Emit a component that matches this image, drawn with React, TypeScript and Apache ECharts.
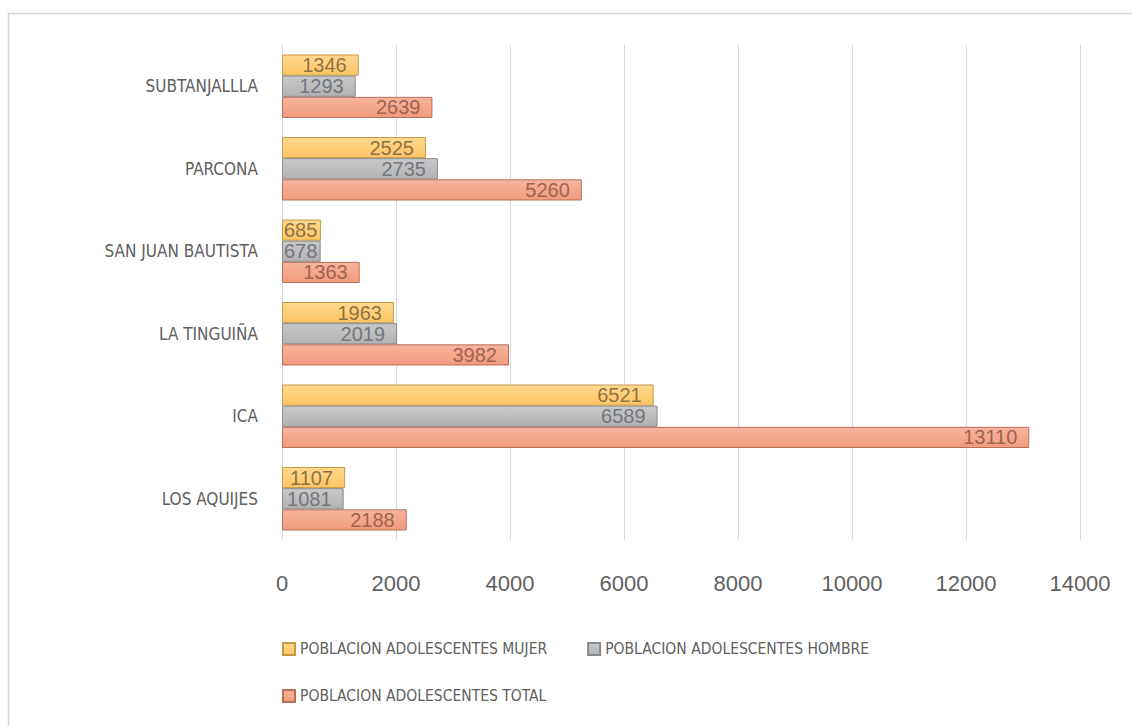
import React, { useEffect, useRef } from "react";
import * as echarts from "echarts";

const categories = ["LOS AQUIJES", "ICA", "LA TINGUIÑA", "SAN JUAN BAUTISTA", "PARCONA", "SUBTANJALLLA"];
const mujer = [1107, 6521, 1963, 685, 2525, 1346];
const hombre = [1081, 6589, 2019, 678, 2735, 1293];
const total = [2188, 13110, 3982, 1363, 5260, 2639];
const seriesNames = [
  "POBLACION ADOLESCENTES MUJER",
  "POBLACION ADOLESCENTES HOMBRE",
  "POBLACION ADOLESCENTES TOTAL",
];

const NARROW = "'Liberation Sans Narrow', 'DejaVu Sans Condensed', sans-serif";
const DIGITS = "'Liberation Sans', Arial, sans-serif";

function grad(top: string, bottom: string) {
  return new echarts.graphic.LinearGradient(0, 0, 0, 1, [
    { offset: 0, color: top },
    { offset: 1, color: bottom },
  ]);
}

// short bars get their label anchored at the bar start (as in the source)
function withLabels(values: number[]) {
  return values.map((v) =>
    v < 1000 ? { value: v, label: { position: "insideLeft", distance: 2 } } : v
  );
}

export default function App() {
  const ref = useRef<HTMLDivElement>(null);
  useEffect(() => {
    if (!ref.current) return;
    const chart = echarts.init(ref.current, undefined, { renderer: "svg" });
    const labelBase = { show: true, position: "insideRight", distance: 12, fontFamily: DIGITS, fontSize: 20 };
    chart.setOption({
      animation: false,
      backgroundColor: "#ffffff",
      graphic: [
        {
          type: "rect",
          shape: { x: 8.5, y: 13.5, width: 1200, height: 800 },
          style: { fill: "none", stroke: "#d4d4d4", lineWidth: 1.5 },
          silent: true,
        },
      ],
      grid: { left: 282, right: 52, top: 45, bottom: 186, containLabel: false },
      legend: [
        {
          data: [seriesNames[0], seriesNames[1]],
          left: 277,
          top: 636,
          itemWidth: 12,
          itemHeight: 12,
          itemGap: 40,
          icon: "rect",
          textStyle: { color: "#606060", fontSize: 15.5, fontFamily: NARROW },
        },
        {
          data: [seriesNames[2]],
          left: 277,
          top: 683,
          itemWidth: 12,
          itemHeight: 12,
          icon: "rect",
          textStyle: { color: "#606060", fontSize: 15.5, fontFamily: NARROW },
        },
      ],
      xAxis: {
        type: "value",
        min: 0,
        max: 14000,
        interval: 2000,
        axisLine: { show: false },
        axisTick: { show: false },
        splitLine: { show: true, lineStyle: { color: "#d9d9d9", width: 1 } },
        axisLabel: {
          color: "#606060",
          fontSize: 22,
          fontFamily: DIGITS,
          margin: 32,
          formatter: (v: number) => String(v),
        },
      },
      yAxis: {
        type: "category",
        data: categories,
        axisLine: { show: false },
        axisTick: { show: false },
        axisLabel: { color: "#606060", fontSize: 17, fontFamily: NARROW, margin: 24 },
      },
      series: [
        {
          name: seriesNames[0],
          type: "bar",
          data: withLabels(mujer),
          barGap: "0%",
          barCategoryGap: "23%",
          itemStyle: { color: grad("#ffd98e", "#ffc465"), borderColor: "#c29b48", borderWidth: 1 },
          label: { ...labelBase, color: "#8f7443" },
        },
        {
          name: seriesNames[1],
          type: "bar",
          data: withLabels(hombre),
          barGap: "0%",
          barCategoryGap: "23%",
          itemStyle: { color: grad("#c9c9c9", "#b2b2b2"), borderColor: "#8a8a8a", borderWidth: 1 },
          label: { ...labelBase, color: "#737780" },
        },
        {
          name: seriesNames[2],
          type: "bar",
          data: withLabels(total),
          barGap: "0%",
          barCategoryGap: "23%",
          itemStyle: { color: grad("#f7b49c", "#f29a7c"), borderColor: "#b5705a", borderWidth: 1 },
          label: { ...labelBase, color: "#a06453" },
        },
      ],
    });
    return () => chart.dispose();
  }, []);
  return (
    <div
      ref={ref}
      style={{ position: "fixed", left: 0, top: 0, width: 1132, height: 726 }}
    />
  );
}
